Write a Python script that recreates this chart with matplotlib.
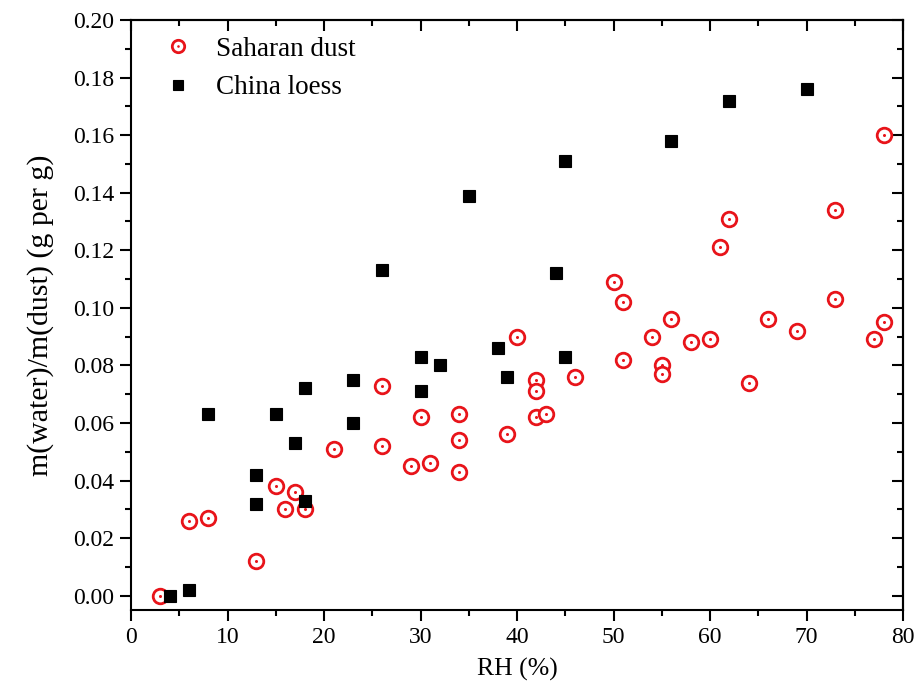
import matplotlib
matplotlib.use("Agg")
import matplotlib.pyplot as plt
from matplotlib.ticker import MultipleLocator, FormatStrFormatter

plt.rcParams['font.family'] = ['Liberation Serif', 'DejaVu Serif']

# Water uptake of Saharan dust
sahara_rh = [3, 6, 8, 13, 15, 16, 17, 18, 21, 26, 26, 29, 30, 31, 34, 34, 34,
             39, 40, 42, 42, 42, 43, 46, 50, 51, 51, 54, 55, 55, 56, 58, 60,
             61, 62, 64, 66, 69, 73, 73, 77, 78, 78]
sahara_w = [0.000, 0.026, 0.027, 0.012, 0.038, 0.030, 0.036, 0.030, 0.051,
            0.052, 0.073, 0.045, 0.062, 0.046, 0.063, 0.054, 0.043, 0.056,
            0.090, 0.075, 0.071, 0.062, 0.063, 0.076, 0.109, 0.102, 0.082,
            0.090, 0.080, 0.077, 0.096, 0.088, 0.089, 0.121, 0.131, 0.074,
            0.096, 0.092, 0.134, 0.103, 0.089, 0.095, 0.160]

# Water uptake of China loess
loess_rh = [4, 6, 8, 13, 13, 15, 17, 18, 18, 23, 23, 26, 30, 30, 32, 35, 38,
            39, 44, 45, 45, 56, 62, 70]
loess_w = [0.000, 0.002, 0.063, 0.042, 0.032, 0.063, 0.053, 0.072, 0.033,
           0.075, 0.060, 0.113, 0.083, 0.071, 0.080, 0.139, 0.086, 0.076,
           0.112, 0.083, 0.151, 0.158, 0.172, 0.176]

fig = plt.figure(figsize=(9.15, 6.9), dpi=100)
ax = fig.add_axes([0.1432, 0.1159, 0.8437, 0.8551])

red = '#e8141a'
h_circ, = ax.plot(sahara_rh, sahara_w, linestyle='none', marker='o', ms=10.5,
                  mfc='white', mec=red, mew=2.0, zorder=3)
h_dot, = ax.plot(sahara_rh, sahara_w, linestyle='none', marker='o', ms=2.2,
                 mfc=red, mec='none', zorder=4)
h_sq, = ax.plot(loess_rh, loess_w, linestyle='none', marker='s', ms=8,
                mfc='black', mec='black', mew=0.8, zorder=3)

ax.set_xlim(0, 80)
ax.set_ylim(-0.005, 0.20)
ax.xaxis.set_major_locator(MultipleLocator(10))
ax.xaxis.set_minor_locator(MultipleLocator(5))
ax.yaxis.set_major_locator(MultipleLocator(0.02))
ax.yaxis.set_minor_locator(MultipleLocator(0.01))
ax.yaxis.set_major_formatter(FormatStrFormatter('%.2f'))

for s in ax.spines.values():
    s.set_linewidth(1.5)

ax.tick_params(which='both', direction='out', width=1.5, labelsize=17,
               top=False, right=False)
ax.tick_params(which='major', length=8)
ax.tick_params(which='minor', length=4.5)
ax.tick_params(axis='x', pad=4)
ax.tick_params(axis='y', pad=4)

# inward ticks along the top and right edges
ax_top = ax.secondary_xaxis('top')
ax_top.xaxis.set_major_locator(MultipleLocator(10))
ax_top.xaxis.set_minor_locator(MultipleLocator(5))
ax_top.tick_params(which='both', direction='in', width=1.5, labeltop=False)
ax_top.tick_params(which='major', length=8)
ax_top.tick_params(which='minor', length=4.5)
ax_top.spines['top'].set_linewidth(1.5)
ax_right = ax.secondary_yaxis('right')
ax_right.yaxis.set_major_locator(MultipleLocator(0.02))
ax_right.yaxis.set_minor_locator(MultipleLocator(0.01))
ax_right.tick_params(which='both', direction='in', width=1.5, labelright=False)
ax_right.tick_params(which='major', length=8)
ax_right.tick_params(which='minor', length=4.5)
ax_right.spines['right'].set_linewidth(1.5)

ax.set_xlabel('RH (%)', fontsize=18.5, labelpad=7)
ax.set_ylabel('m(water)/m(dust) (g per g)', fontsize=21.5, labelpad=14)

ax.legend([(h_circ, h_dot), h_sq], ['Saharan dust', 'China loess'],
          loc='upper left', bbox_to_anchor=(0.022, 0.99), frameon=False,
          fontsize=19.5, handlelength=1.4, handletextpad=0.7,
          labelspacing=0.5, borderaxespad=0.0, markerscale=0.85)

fig.savefig('out.png', dpi=100)
